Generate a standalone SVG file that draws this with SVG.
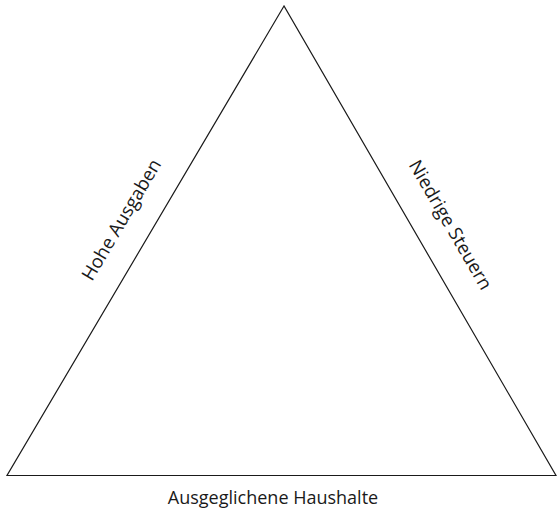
<svg xmlns="http://www.w3.org/2000/svg" width="557" height="514" viewBox="0 0 557 514">
<style>
.edge{fill:none;stroke:#1a1a1a;stroke-width:1.2}
.lbl{font-family:"Open Sans","Noto Sans",sans-serif;font-size:18px;fill:#1a1a1a;text-anchor:middle}
.side{font-size:18.6px}
</style>
<rect width="557" height="514" fill="#fff"/>
<g id="connectors">
<path class="edge" d="M284,6 L7,475.5 L556,475.5 Z"/>
</g>
<g id="label-left"><text class="lbl side" transform="translate(127,223) rotate(-59.4)">Hohe Ausgaben</text></g>
<g id="label-right"><text class="lbl side" transform="translate(445,228) rotate(59.9)">Niedrige Steuern</text></g>
<g id="label-bottom"><text class="lbl" x="273" y="504">Ausgeglichene Haushalte</text></g>
</svg>
